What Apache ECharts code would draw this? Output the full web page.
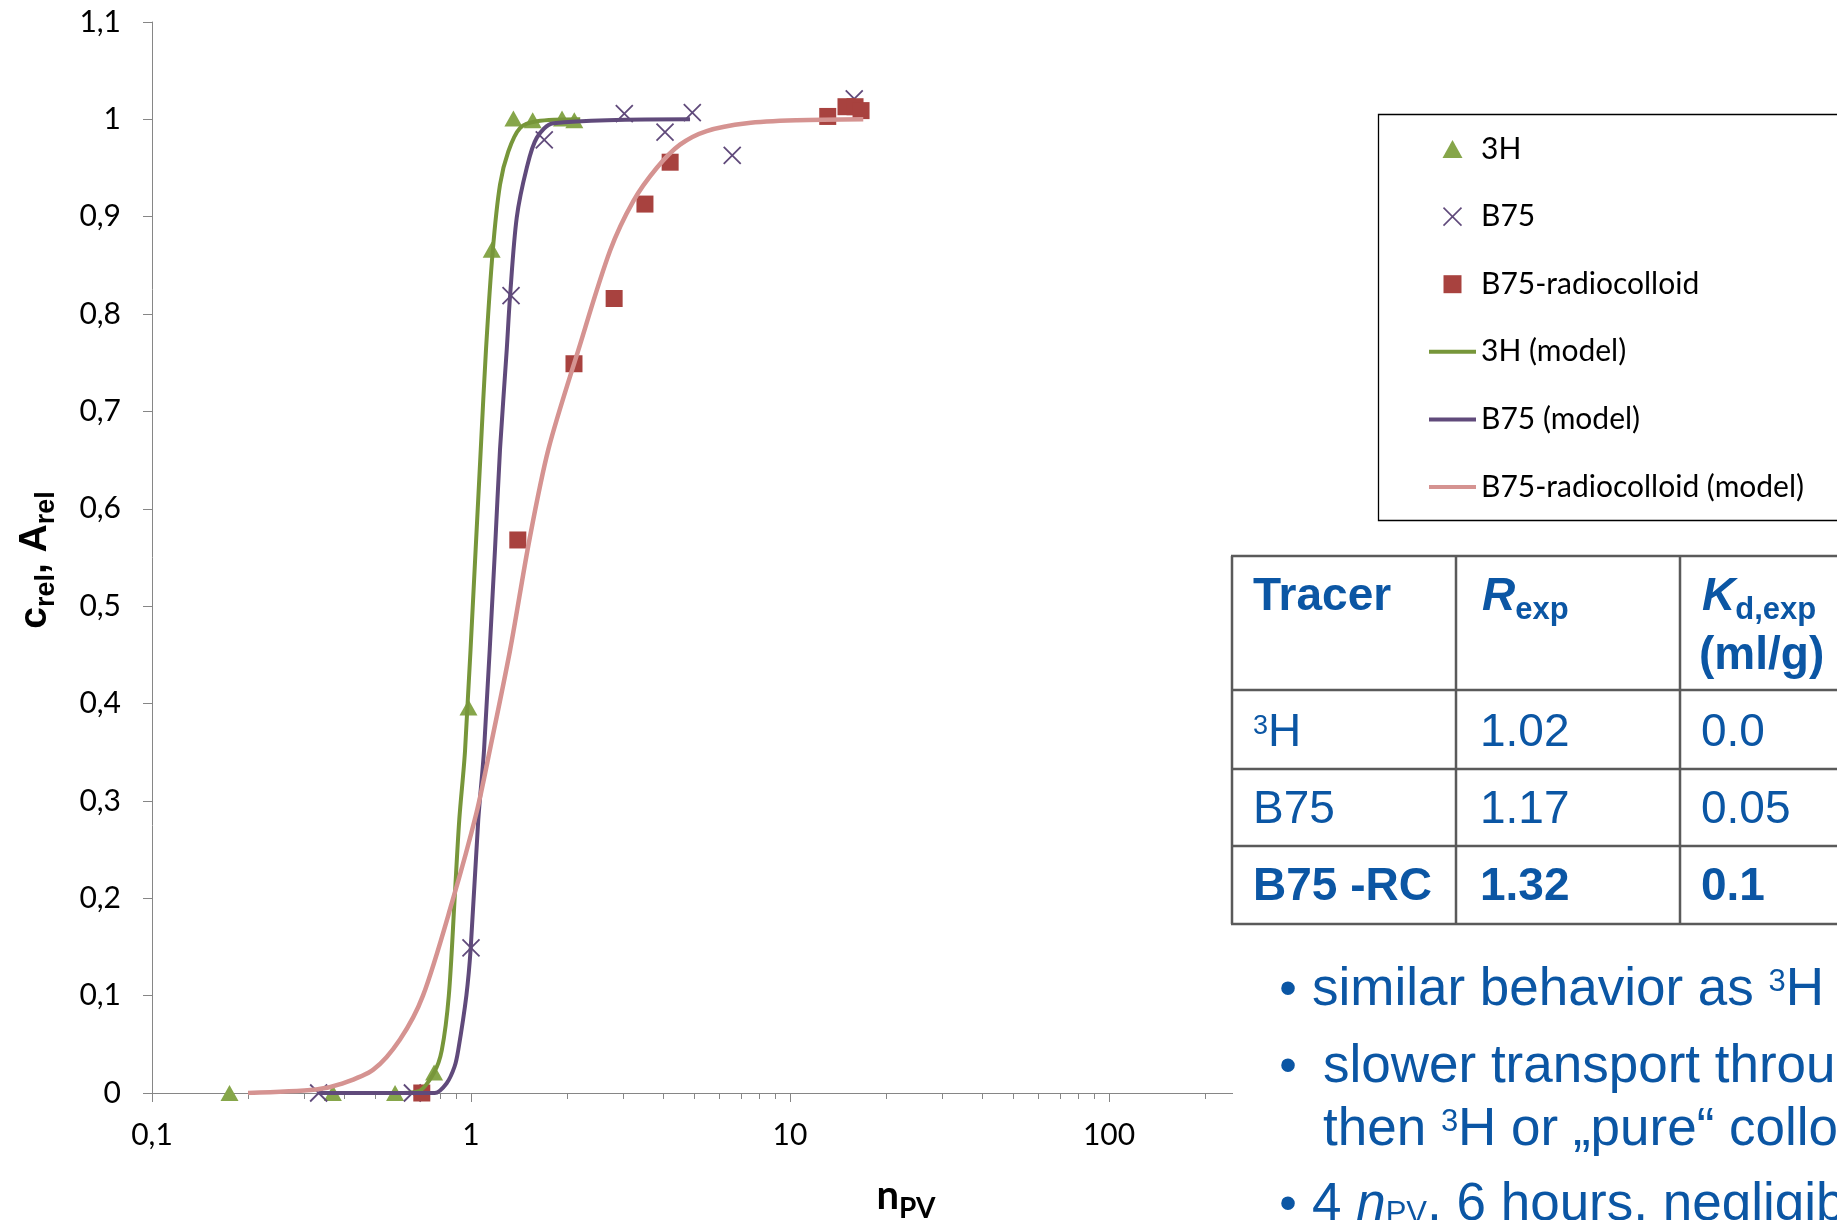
<!DOCTYPE html>
<html>
<head>
<meta charset="utf-8">
<script src="https://cdn.jsdelivr.net/npm/echarts@6/dist/echarts.min.js"></script>
<style>
html,body{margin:0;padding:0;background:#fff;}
#c{width:1837px;height:1220px;}
</style>
</head>
<body>
<div id="c"></div>
<script>
// ---------- data ----------
const xTickValues = [0.1, 1, 10, 100, 1000];
const xTickLabels = ['0,1', '1', '10', '100', '1000'];
const xMinorTickValues = [0.2,0.3,0.4,0.5,0.6,0.7,0.8,0.9, 2,3,4,5,6,7,8,9, 20,30,40,50,60,70,80,90, 200,300,400,500,600,700,800,900];
const yTickValues = [0,0.1,0.2,0.3,0.4,0.5,0.6,0.7,0.8,0.9,1,1.1];
const yTickLabels = ['0','0,1','0,2','0,3','0,4','0,5','0,6','0,7','0,8','0,9','1','1,1'];

const seriesNames = ['3H', 'B75', 'B75-radiocolloid', '3H (model)', 'B75 (model)', 'B75-radiocolloid (model)'];

// measured points [n_PV, c_rel]
const tritiumMeasured = [[0.175,0],[0.369,0],[0.578,0],[0.766,0.021],[0.982,0.396],[1.161,0.866],[1.358,1.001],[1.561,0.999],[1.929,1.001],[2.108,0.999]];
const b75Measured = [[0.333,0],[0.655,0],[1.0,0.149],[1.335,0.819],[1.697,0.979],[3.024,1.006],[4.057,0.987],[4.94,1.007],[6.59,0.963],[15.9,1.021]];
const radiocolloidMeasured = [[0.701,0],[1.402,0.568],[2.103,0.749],[2.81,0.816],[3.51,0.913],[4.21,0.956],[13.13,1.003],[14.98,1.013],[15.99,1.013],[16.7,1.009]];

// model curves
const tritiumModel = [[0.58,0],[0.687,0.002],[0.766,0.021],[0.81,0.044],[0.852,0.1],[0.888,0.198],[0.919,0.281],[0.958,0.352],[1.034,0.558],[1.073,0.661],[1.114,0.763],[1.17,0.865],[1.233,0.933],[1.309,0.967],[1.424,0.991],[1.607,0.998],[2.2,1.0]];
const b75Model = [[0.333,0],[0.77,0],[0.839,0.01],[0.888,0.027],[0.912,0.044],[0.967,0.1],[0.998,0.149],[1.054,0.281],[1.099,0.353],[1.189,0.558],[1.233,0.661],[1.294,0.763],[1.326,0.819],[1.391,0.899],[1.495,0.95],[1.607,0.981],[1.811,0.996],[4.86,1.0]];
const radiocolloidModel = [[0.2,0],[0.327,0.0035],[0.389,0.009],[0.494,0.024],[0.599,0.055],[0.707,0.1],[0.876,0.198],[1.039,0.287],[1.147,0.353],[1.326,0.455],[1.524,0.568],[1.748,0.661],[2.17,0.763],[2.728,0.865],[3.227,0.916],[3.82,0.95],[4.52,0.974],[5.48,0.988],[7.32,0.996],[10.5,0.999],[16.97,1.0]];

// table beside the chart
const tableHeader = ['Tracer', 'R', 'exp', 'K', 'd,exp', '(ml/g)'];
const tableTracers = ['H', 'B75', 'B75 -RC'];
const tableR = ['1.02', '1.17', '1.32'];
const tableKd = ['0.0', '0.05', '0.1'];

// ---------- style ----------
const C_GREEN_M = '#86A64A', C_GREEN_L = '#77963A';
const C_PURPLE = '#604A7B';
const C_RED = '#A8423F', C_PINK = '#D59391';
const C_AXIS = '#868686';
const C_BLUE = '#0B56A4';
const ARIAL = 'Liberation Sans';
const LATO = 'Lato';
const CROSS = 'path://M0,0L10,10M10,0L0,10';
const TRI = 'path://M5,0L10,9L0,9Z';
const SQR = 'path://M0,0L10,0L10,10L0,10Z';
const BAR = 'path://M0,0L94,0L94,8L0,8Z';
const K = 0.33; // baseline offset factor for middle-aligned text
const TS = 46;  // table font size
const BS = 53;  // bullet font size

const chart = echarts.init(document.getElementById('c'), null, {renderer: 'canvas'});

function plain(x, baseline, text, size, opts) {
  opts = opts || {};
  return {
    type: 'text', x: x, y: baseline - K * size, z: 60,
    style: {
      text: text, fill: opts.fill || C_BLUE,
      font: (opts.italic ? 'italic ' : '') + (opts.bold ? 'bold ' : '') + size + 'px "' + (opts.family || ARIAL) + '"',
      align: opts.align || 'left', verticalAlign: 'middle'
    }
  };
}

const graphics = [];
// white panel covering the right end of the axis
graphics.push({type: 'rect', z: 50, shape: {x: 1233, y: 530, width: 620, height: 700}, style: {fill: '#fff'}});
// legend frame
graphics.push({type: 'rect', z: 3, shape: {x: 1378.5, y: 114.5, width: 600, height: 406}, style: {fill: '#fff', stroke: '#000', lineWidth: 1.3}});

// table grid
const colX = [1232, 1456, 1680, 1904];
const rowY = [556, 690, 769, 846, 924];
colX.forEach(function (x) {
  graphics.push({type: 'line', z: 55, shape: {x1: x, y1: rowY[0], x2: x, y2: rowY[4]}, style: {stroke: '#5A5A5A', lineWidth: 2.5}});
});
rowY.forEach(function (y) {
  graphics.push({type: 'line', z: 55, shape: {x1: colX[0] - 1, y1: y, x2: 1900, y2: y}, style: {stroke: '#5A5A5A', lineWidth: 2.5}});
});

// header
graphics.push(plain(1253, 612, tableHeader[0], TS, {bold: true}));
function subHead(x, main, sub) {
  return {
    type: 'text', x: x, y: 612 - 29.5 - K * TS, z: 60,
    style: {
      text: '{m|' + main + '}{s|' + sub + '}', verticalAlign: 'top', align: 'left',
      rich: {
        m: {fontFamily: ARIAL, fontSize: TS, fontWeight: 'bold', fontStyle: 'italic', fill: C_BLUE, lineHeight: 59, verticalAlign: 'middle'},
        s: {fontFamily: ARIAL, fontSize: 31, fontWeight: 'bold', fill: C_BLUE, verticalAlign: 'bottom'}
      }
    }
  };
}
graphics.push(subHead(1482, tableHeader[1], tableHeader[2]));
graphics.push(subHead(1702, tableHeader[3], tableHeader[4]));
graphics.push(plain(1699, 671, tableHeader[5], TS, {bold: true}));

// rows
const rowBase = [748, 825, 902];
graphics.push({
  type: 'text', x: 1253, y: 748 - 20 - K * TS, z: 60,
  style: {
    text: '{p|3}{t|' + tableTracers[0] + '}', verticalAlign: 'top', align: 'left',
    rich: {
      p: {fontFamily: ARIAL, fontSize: 27, fill: C_BLUE, verticalAlign: 'top'},
      t: {fontFamily: ARIAL, fontSize: TS, fill: C_BLUE, lineHeight: 40, verticalAlign: 'middle'}
    }
  }
});
for (let i = 0; i < 3; i++) {
  const b = i === 2;
  if (i > 0) graphics.push(plain(1253, rowBase[i], tableTracers[i], TS, {bold: b}));
  graphics.push(plain(1480, rowBase[i], tableR[i], TS, {bold: b}));
  graphics.push(plain(1701, rowBase[i], tableKd[i], TS, {bold: b}));
}

// bullet text
const bulletRich = {
  t: {fontFamily: ARIAL, fontSize: BS, fill: C_BLUE, lineHeight: 48, verticalAlign: 'middle'},
  p: {fontFamily: ARIAL, fontSize: 31, fill: C_BLUE, verticalAlign: 'top'},
  i: {fontFamily: ARIAL, fontSize: BS, fontStyle: 'italic', fill: C_BLUE, lineHeight: 48, verticalAlign: 'middle'},
  s: {fontFamily: ARIAL, fontSize: 31, fill: C_BLUE, verticalAlign: 'bottom'}
};
function bulletLine(x, baseline, text) {
  return {type: 'text', x: x, y: baseline - 24 - K * BS, z: 60,
    style: {text: text, verticalAlign: 'top', align: 'left', rich: bulletRich}};
}
graphics.push(plain(1288, 1008, '•', 50, {align: 'center'}));
graphics.push(bulletLine(1312, 1008, '{t|similar behavior as }{p|3}{t|H}'));
graphics.push(plain(1288, 1085, '•', 50, {align: 'center'}));
graphics.push(bulletLine(1323, 1085, '{t|slower transport through the column}'));
graphics.push(bulletLine(1323, 1148, '{t|then }{p|3}{t|H or \u201Epure\u201C colloids}'));
graphics.push(plain(1288, 1223, '•', 50, {align: 'center'}));
graphics.push(bulletLine(1312, 1223, '{t|4 }{i|n}{s|PV}{t|, 6 hours, negligible}'));

// axis titles
graphics.push({
  type: 'text', x: 35, y: 560, rotation: Math.PI / 2, z: 60,
  style: {
    text: '{a|c}{s|rel}{a|, A}{s|rel}', align: 'center', verticalAlign: 'middle',
    rich: {
      a: {fontFamily: ARIAL, fontSize: 39, fontWeight: 'bold', fill: '#000', lineHeight: 50, verticalAlign: 'middle'},
      s: {fontFamily: ARIAL, fontSize: 27, fontWeight: 'bold', fill: '#000', verticalAlign: 'bottom'}
    }
  }
});
graphics.push({
  type: 'text', x: 906, y: 1169, z: 60,
  style: {
    text: '{n|n}{s|PV}', align: 'center', verticalAlign: 'top',
    rich: {
      n: {fontFamily: LATO, fontSize: 40, fontWeight: 'bold', fill: '#000', lineHeight: 54, verticalAlign: 'middle'},
      s: {fontFamily: LATO, fontSize: 28, fontWeight: 'bold', fill: '#000', verticalAlign: 'bottom'}
    }
  }
});

const option = {
  animation: false,
  backgroundColor: '#fff',
  grid: {left: 152, right: 409, top: 22, bottom: 127, containLabel: false, outerBoundsMode: 'none'},
  xAxis: {
    type: 'log', logBase: 10, min: xTickValues[0], max: xTickValues[xTickValues.length - 1],
    axisLine: {lineStyle: {color: C_AXIS, width: 1}},
    axisTick: {show: true, length: 9, lineStyle: {color: C_AXIS, width: 1}},
    minorTick: {show: false},
    splitLine: {show: false},
    axisLabel: {
      margin: 27, fontFamily: LATO, fontSize: 30, color: '#000',
      formatter: function (v) {
        for (let i = 0; i < xTickValues.length; i++) {
          if (Math.abs(Math.log10(v) - Math.log10(xTickValues[i])) < 1e-6) return xTickLabels[i];
        }
        return '';
      }
    }
  },
  yAxis: {
    type: 'value', min: 0, max: 1.1, interval: 0.1,
    axisLine: {show: true, lineStyle: {color: C_AXIS, width: 1}},
    axisTick: {show: true, length: 9, lineStyle: {color: C_AXIS, width: 1}},
    splitLine: {show: false},
    axisLabel: {
      margin: 31, fontFamily: LATO, fontSize: 30, color: '#000',
      formatter: function (v) {
        for (let i = 0; i < yTickValues.length; i++) {
          if (Math.abs(v - yTickValues[i]) < 1e-6) return yTickLabels[i];
        }
        return '';
      }
    }
  },
  legend: {
    orient: 'vertical', left: 1429, top: 134, padding: 0,
    itemGap: 37.6, itemWidth: 47, itemHeight: 18,
    selectedMode: false, symbolKeepAspect: true,
    textStyle: {fontFamily: LATO, fontSize: 30, color: '#000', lineHeight: 30},
    data: [
      {name: seriesNames[0], icon: TRI, itemStyle: {color: C_GREEN_M, opacity: 1}},
      {name: seriesNames[1], icon: CROSS, itemStyle: {color: C_PURPLE, borderColor: C_PURPLE, borderWidth: 1.6, opacity: 1}},
      {name: seriesNames[2], icon: SQR, itemStyle: {color: C_RED, opacity: 1}},
      {name: seriesNames[3], icon: BAR, itemStyle: {color: C_GREEN_L, opacity: 1}},
      {name: seriesNames[4], icon: BAR, itemStyle: {color: C_PURPLE, opacity: 1}},
      {name: seriesNames[5], icon: BAR, itemStyle: {color: C_PINK, opacity: 1}}
    ]
  },
  graphic: graphics,
  series: [
    {
      type: 'custom', name: 'minor ticks', silent: true, clip: false, z: 1,
      data: xMinorTickValues.map(function (v) { return [v, 0]; }),
      renderItem: function (params, api) {
        const p = api.coord([api.value(0), 0]);
        const x = Math.round(p[0]) + 0.5;
        return {type: 'line', shape: {x1: x, y1: p[1], x2: x, y2: p[1] + 6}, style: {stroke: C_AXIS, lineWidth: 1}};
      }
    },
    {
      name: seriesNames[0], type: 'scatter', data: tritiumMeasured,
      symbol: 'triangle', symbolSize: [18, 16],
      itemStyle: {color: C_GREEN_M, opacity: 1}
    },
    {
      name: seriesNames[1], type: 'scatter', data: b75Measured,
      symbol: CROSS, symbolSize: 17,
      itemStyle: {color: C_PURPLE, borderColor: C_PURPLE, borderWidth: 1.8, opacity: 1}
    },
    {
      name: seriesNames[2], type: 'scatter', data: radiocolloidMeasured,
      symbol: 'rect', symbolSize: 17,
      itemStyle: {color: C_RED, opacity: 1}
    },
    {
      name: seriesNames[3], type: 'line', data: tritiumModel,
      showSymbol: false, symbol: 'none', smooth: 0.3,
      lineStyle: {color: C_GREEN_L, width: 4}, itemStyle: {color: C_GREEN_L}
    },
    {
      name: seriesNames[4], type: 'line', data: b75Model,
      showSymbol: false, symbol: 'none', smooth: 0.3,
      lineStyle: {color: C_PURPLE, width: 4}, itemStyle: {color: C_PURPLE}
    },
    {
      name: seriesNames[5], type: 'line', data: radiocolloidModel,
      showSymbol: false, symbol: 'none', smooth: 0.3,
      lineStyle: {color: C_PINK, width: 4.5}, itemStyle: {color: C_PINK}
    }
  ]
};
chart.setOption(option);
</script>
</body>
</html>
